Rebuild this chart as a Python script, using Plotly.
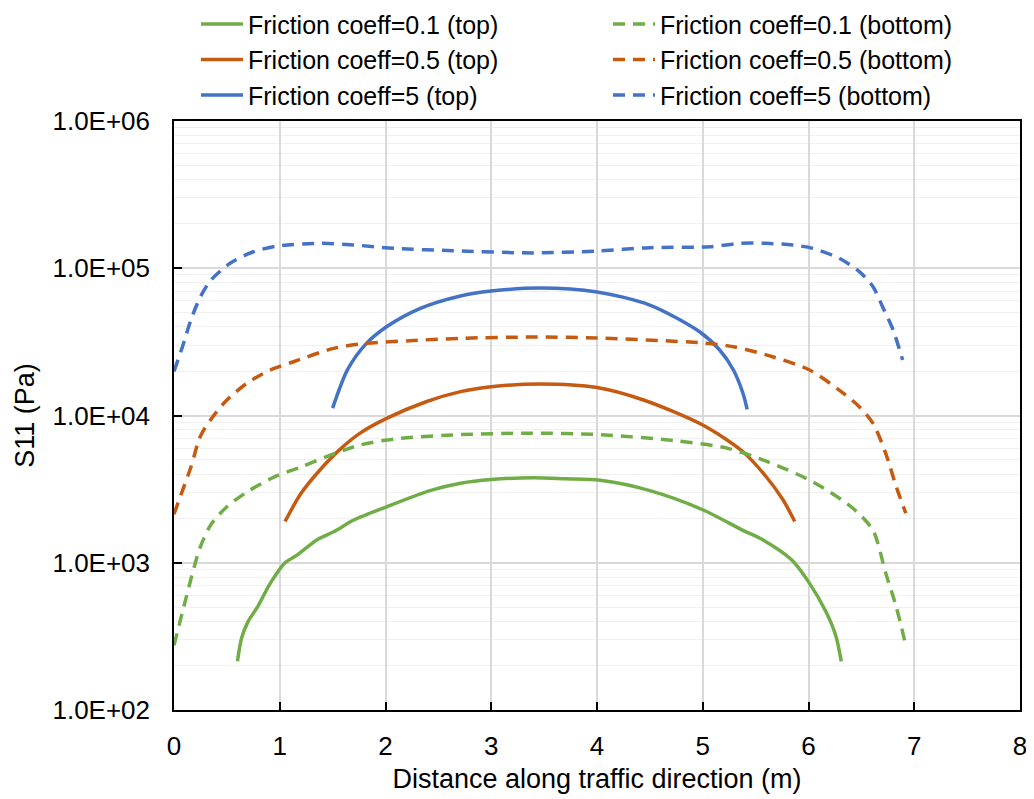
import plotly.graph_objects as go

# ---- data ----
x_01_top = [0.60, 0.64, 0.70, 0.79, 0.91, 1.05, 1.16, 1.35, 1.51, 1.70, 2.01, 2.42, 2.71, 3.0, 3.4, 3.7, 4.03, 4.50, 5.00, 5.38, 5.57, 5.84, 6.01, 6.17, 6.26, 6.31]
y_01_top = [214, 309, 398, 501, 724, 1000, 1122, 1429, 1622, 1950, 2399, 3090, 3467, 3673, 3776, 3715, 3631, 3090, 2291, 1660, 1429, 1047, 724, 457, 316, 214]

x_01_bot = [0.0, 0.11, 0.19, 0.25, 0.35, 0.50, 0.69, 0.94, 1.20, 1.51, 1.76, 2.08, 2.71, 3.37, 4.03, 4.72, 5.22, 5.60, 6.04, 6.42, 6.61, 6.73, 6.83, 6.92]
y_01_bot = [275, 562, 933, 1288, 1820, 2399, 3020, 3802, 4467, 5495, 6310, 6918, 7413, 7586, 7413, 6761, 6026, 4898, 3548, 2344, 1660, 851, 501, 275]

x_05_top = [1.05, 1.20, 1.38, 1.57, 1.76, 2.01, 2.39, 2.71, 3.0, 3.46, 4.0, 4.44, 5.00, 5.38, 5.60, 5.76, 5.87]
y_05_top = [1905, 2951, 4266, 5888, 7586, 9550, 12450, 14520, 15670, 16370, 15490, 12740, 8610, 5675, 3837, 2667, 1905]

x_05_bot = [0.0, 0.08, 0.16, 0.25, 0.35, 0.50, 0.69, 0.91, 1.13, 1.51, 1.82, 2.23, 2.71, 3.4, 4.0, 4.97, 5.29, 5.66, 6.01, 6.29, 6.48, 6.61, 6.73, 6.83, 6.92]
y_05_bot = [2138, 3090, 4467, 7244, 9441, 12740, 16560, 20370, 23170, 28580, 30900, 32210, 33420, 34120, 33570, 31190, 29310, 25060, 20370, 14890, 11480, 8851, 5534, 3281, 2168]

x_5_top = [1.50, 1.64, 1.82, 2.01, 2.33, 2.71, 3.0, 3.46, 4.0, 4.5, 4.97, 5.16, 5.29, 5.38, 5.42]
y_5_top = [11220, 20420, 30900, 40090, 53460, 64860, 69980, 73450, 69020, 56230, 37070, 27860, 20370, 14160, 11020]

x_5_bot = [0.0, 0.08, 0.16, 0.25, 0.35, 0.53, 0.75, 0.98, 1.38, 1.70, 2.08, 2.64, 3.4, 4.0, 4.5, 5.07, 5.35, 5.60, 5.85, 6.04, 6.29, 6.48, 6.61, 6.70, 6.80, 6.89]
y_5_bot = [19950, 29310, 44570, 64120, 83180, 108100, 129400, 141600, 147600, 143900, 136500, 131500, 127100, 130900, 138000, 140000, 147600, 147600, 143900, 136500, 117000, 94840, 74990, 54830, 38110, 23820]

y_tick_vals = [1e2, 1e3, 1e4, 1e5, 1e6]
y_tick_text = ["1.0E+02", "1.0E+03", "1.0E+04", "1.0E+05", "1.0E+06"]
y_minor_vals = [m * d for d in (1e2, 1e3, 1e4, 1e5) for m in range(2, 10)]

GREEN = "#70AD47"
ORANGE = "#C55A11"
BLUE = "#4472C4"
FONT = "Arial, Liberation Sans, sans-serif"
DASH = "12px,8px"

series = [
    ("Friction coeff=0.1 (top)", x_01_top, y_01_top, GREEN, "solid", "legend"),
    ("Friction coeff=0.5 (top)", x_05_top, y_05_top, ORANGE, "solid", "legend"),
    ("Friction coeff=5 (top)", x_5_top, y_5_top, BLUE, "solid", "legend"),
    ("Friction coeff=0.1 (bottom)", x_01_bot, y_01_bot, GREEN, DASH, "legend2"),
    ("Friction coeff=0.5 (bottom)", x_05_bot, y_05_bot, ORANGE, DASH, "legend2"),
    ("Friction coeff=5 (bottom)", x_5_bot, y_5_bot, BLUE, DASH, "legend2"),
]

fig = go.Figure()
for name, xs, ys, col, dash, lg in series:
    fig.add_trace(go.Scatter(
        x=xs, y=ys, name=name, mode="lines", legend=lg,
        line=dict(color=col, width=3.5, dash=dash, shape="spline", smoothing=0.8),
    ))

legend_common = dict(
    orientation="v", xanchor="left", y=1.2035, yanchor="top",
    font=dict(family=FONT, size=25, color="#000000"),
    bgcolor="rgba(0,0,0,0)", tracegroupgap=0, traceorder="normal",
    itemwidth=42,
)

# The page body has an 8px margin, so the figure is shrunk by 8px and margins shifted.
fig.update_layout(
    width=1026, height=791,
    margin=dict(l=166, r=14, t=113, b=89, autoexpand=False),
    paper_bgcolor="white", plot_bgcolor="white",
    font=dict(family=FONT, size=26, color="#000000"),
    showlegend=True,
    legend=dict(x=0.0260, **legend_common),
    legend2=dict(x=0.5130, **legend_common),
    xaxis=dict(
        range=[0, 8], dtick=1, tick0=0,
        showgrid=True, gridcolor="#d9d9d9", gridwidth=1.5,
        showline=True, linecolor="#000000", linewidth=1.5, mirror=True,
        ticks="inside", ticklen=8, tickcolor="#000000", tickwidth=1.5,
        zeroline=False, ticklabelstandoff=12,
        tickfont=dict(family=FONT, size=26, color="#000000"),
        title=dict(text="Distance along traffic direction (m)", standoff=9,
                   font=dict(family=FONT, size=27, color="#000000")),
    ),
    yaxis=dict(
        type="log", range=[2, 6],
        tickmode="array", tickvals=y_tick_vals, ticktext=y_tick_text,
        showgrid=True, gridcolor="#d9d9d9", gridwidth=1.5,
        minor=dict(tickmode="array", tickvals=y_minor_vals, showgrid=True,
                   gridcolor="#f0f0f0", gridwidth=1, ticks=""),
        showline=True, linecolor="#000000", linewidth=1.5, mirror=True,
        ticks="inside", ticklen=8, tickcolor="#000000", tickwidth=1.5,
        zeroline=False, ticklabelstandoff=17,
        tickfont=dict(family=FONT, size=26, color="#000000"),
        title=dict(text="S11 (Pa)", standoff=10,
                   font=dict(family=FONT, size=27, color="#000000")),
    ),
)

fig.write_html("out.html")
